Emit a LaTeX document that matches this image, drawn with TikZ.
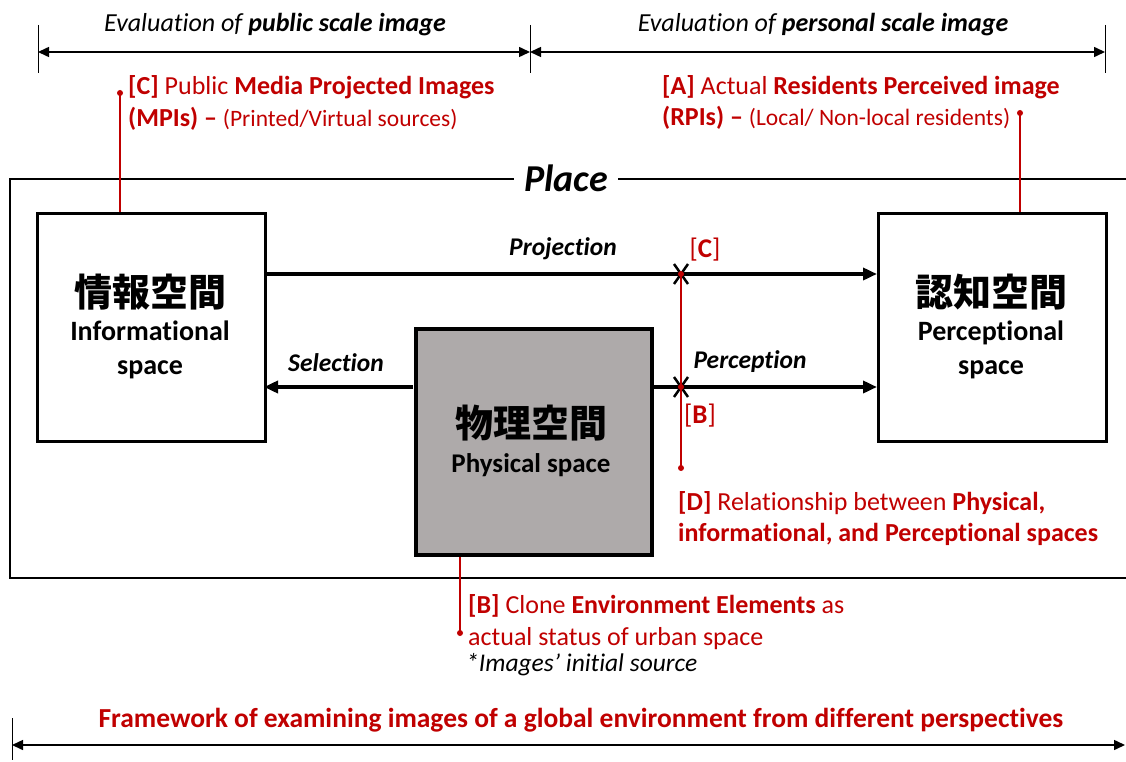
\documentclass[tikz,border=0pt]{standalone}
\usepackage{fontspec}
\setmainfont{Carlito}[RawFeature={-liga}]
\newfontfamily\cjk{Noto Sans CJK JP}
\usetikzlibrary{arrows.meta}
\definecolor{myred}{HTML}{C00000}
\definecolor{mygray}{HTML}{AEAAAA}
\tikzset{
  spacebox/.style={draw=black, line width=3pt, minimum width=228pt, minimum height=228pt, inner sep=0pt, fill=white},
  flow/.style={line width=4pt, -{Triangle[length=14pt,width=12pt]}},
  dimline/.style={line width=1.5pt, {Triangle[length=11pt,width=10pt]}-{Triangle[length=11pt,width=10pt]}},
  tick/.style={line width=1pt},
  redline/.style={draw=myred, line width=1.8pt},
  reddot/.style={circle, fill=myred, inner sep=0pt, minimum size=6pt},
  redtxt/.style={text=myred, anchor=base west, inner sep=0pt, font=\fontsize{26}{30}\selectfont},
  lbl/.style={font=\fontsize{25.5}{30}\selectfont\bfseries\itshape, inner sep=0pt},
  xmark/.style={line width=2.5pt},
}
\begin{document}
\begin{tikzpicture}[x=1pt,y=-1pt]
\useasboundingbox (0,0) rectangle (1126,762);
% Place frame
\draw[line width=2pt] (10,179) rectangle (1140,578);
\node[fill=white, inner xsep=10pt, inner ysep=2pt, font=\fontsize{38}{42}\selectfont\bfseries\itshape] (place) at (566,178) {Place};
% boxes
\node[spacebox, anchor=north west] (info) at (36,212) {};
\node[spacebox, anchor=north west] (perc) at (877,212) {};
\node[spacebox, fill=mygray, line width=4pt, minimum width=236pt, minimum height=226pt, anchor=north west] (phys) at (414,327) {};
\node[font=\fontsize{38}{40}\selectfont\cjk\bfseries] (infoj) at (150,292) {情報空間};
\node[font=\fontsize{28}{34}\selectfont\bfseries, align=center] (infoe) at (150,350) {Informational\\space};
\node[font=\fontsize{38}{40}\selectfont\cjk\bfseries] (percj) at (991,292) {認知空間};
\node[font=\fontsize{28}{34}\selectfont\bfseries, align=center] (perce) at (991,350) {Perceptional\\space};
\node[font=\fontsize{38}{40}\selectfont\cjk\bfseries] (physj) at (531,423) {物理空間};
\node[font=\fontsize{27}{30}\selectfont\bfseries] (physe) at (531,465) {Physical space};
% flows
\coordinate (pj1) at (264,274);
\coordinate (pj2) at (877,274);
\draw[flow] (pj1) -- (pj2);
\coordinate (se1) at (413,387);
\coordinate (se2) at (264,387);
\draw[flow] (se1) -- (se2);
\coordinate (pe1) at (651,387);
\coordinate (pe2) at (877,387);
\draw[flow] (pe1) -- (pe2);
\node[lbl] (lproj) at (563,249) {Projection};
\node[lbl] (lsel) at (336,363) {Selection};
\node[lbl] (lperc) at (750,362) {Perception};
% X marks and red line D
\coordinate (xc) at (681,274);
\coordinate (xb) at (681,387);
\coordinate (dend) at (681,468);
\draw[xmark] ([shift={(-7,-10)}]xc) -- ([shift={(7,10)}]xc) ([shift={(7,-10)}]xc) -- ([shift={(-7,10)}]xc);
\draw[xmark] ([shift={(-7,-10)}]xb) -- ([shift={(7,10)}]xb) ([shift={(7,-10)}]xb) -- ([shift={(-7,10)}]xb);
\draw[redline] (xc) -- (dend);
\node[reddot] (dc) at (xc) {};
\node[reddot] (db) at (xb) {};
\node[reddot] (dd) at (dend) {};
\node[text=myred, font=\fontsize{27}{30}\selectfont] (lc) at (705,250) {[\textbf{C}]};
\node[text=myred, font=\fontsize{27}{30}\selectfont] (lb) at (700,416) {[\textbf{B}]};
% D text
\node[redtxt] (d1) at (678,510) {\textbf{[D]} Relationship between \textbf{Physical,}};
\node[redtxt] (d2) at (678,541) {\textbf{informational, and Perceptional spaces}};
% C text (top left)
\coordinate (ctop) at (120,93);
\draw[redline] (ctop) -- (info.north -| ctop);
\node[reddot] (cdot) at (ctop) {};
\node[redtxt] (c1) at (128,95) {\textbf{[C]} Public \textbf{Media Projected Images}};
\node[redtxt] (c2) at (128,127) {\textbf{(MPIs) --} {\fontsize{23.5}{28}\selectfont (Printed/Virtual sources)}};
% A text (top right)
\coordinate (atop) at (1020,113);
\draw[redline] (atop) -- (perc.north -| atop);
\node[reddot] (adot) at (atop) {};
\node[redtxt] (a1) at (662,95) {\textbf{[A]} Actual \textbf{Residents Perceived image}};
\node[redtxt] (a2) at (662,126) {\textbf{(RPIs) --} {\fontsize{23.5}{28}\selectfont (Local/ Non-local residents)}};
% B text (bottom)
\coordinate (bbot) at (460,633);
\draw[redline] (phys.south -| bbot) -- (bbot);
\node[reddot] (bdot) at (bbot) {};
\node[redtxt] (b1) at (468,613) {\textbf{[B]} Clone \textbf{Environment Elements} as};
\node[redtxt] (b2) at (468,645) {actual status of urban space};
\node[anchor=base west, inner sep=0pt, font=\fontsize{25.5}{30}\selectfont\itshape] (b3) at (466,671) {*Images’ initial source};
% top dimension lines
\coordinate (t1) at (38,52);
\coordinate (t2) at (530,52);
\coordinate (t3) at (1105,52);
\draw[tick] (38,25) -- (38,73);
\draw[tick] (530,25) -- (530,73);
\draw[tick] (1105,25) -- (1105,73);
\draw[dimline] (t1) -- (t2);
\draw[dimline] (t2) -- (t3);
\node[font=\fontsize{26}{30}\selectfont\itshape] (ev1) at (275,25) {Evaluation of \textbf{public scale image}};
\node[font=\fontsize{26}{30}\selectfont\itshape] (ev2) at (823,25) {Evaluation of \textbf{personal scale image}};
% bottom dimension line
\coordinate (f1) at (12,745);
\coordinate (f2) at (1125,745);
\draw[tick] (12,718) -- (12,760);
\draw[dimline] (f1) -- (f2);
\node[text=myred, font=\fontsize{27.5}{30}\selectfont\bfseries] (fw) at (581,720) {Framework of examining images of a global environment from different perspectives};
\end{tikzpicture}
\end{document}
